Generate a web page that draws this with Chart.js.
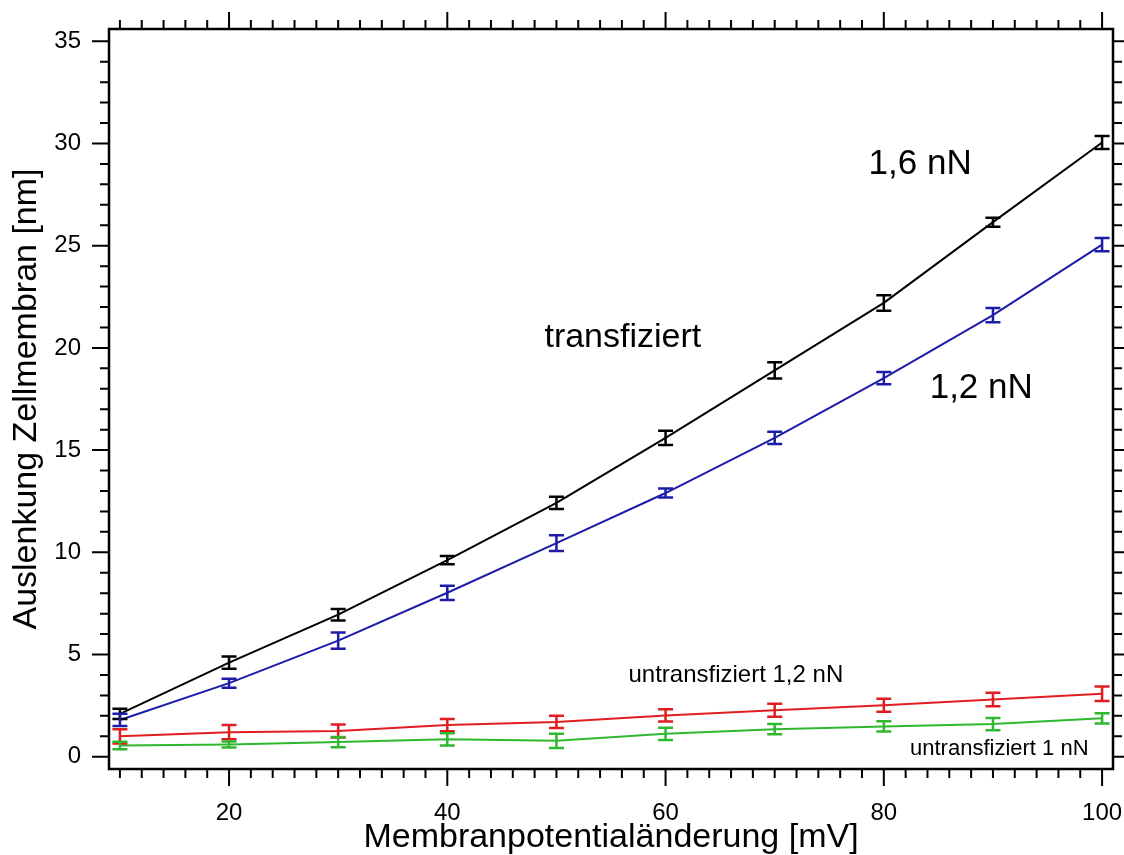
<!doctype html>
<html>
	<head>
		<meta charset="UTF-8" />
		<script src="https://cdn.jsdelivr.net/npm/chart.js"></script>
		<style type="text/css">
			body{margin:0;background:#fff;}
			#chartBox{width:1124px;height:855px;}
		</style>
	</head>
	<body>
		<div id="chartBox"><canvas id="membranChart" width="1124" height="855"></canvas></div>
		<script>
			// data block
			const mV = [10, 20, 30, 40, 50, 60, 70, 80, 90, 100];
			const trans16 = [2.1, 4.6, 6.95, 9.62, 12.42, 15.6, 18.9, 22.2, 26.15, 30.05];
			const trans16Err = [0.25, 0.3, 0.28, 0.2, 0.3, 0.35, 0.4, 0.38, 0.22, 0.32];
			const trans12 = [1.8, 3.6, 5.68, 8.02, 10.45, 12.9, 15.6, 18.52, 21.6, 25.05];
			const trans12Err = [0.3, 0.22, 0.4, 0.35, 0.38, 0.22, 0.3, 0.3, 0.35, 0.32];
			const untrans12 = [1.0, 1.2, 1.26, 1.55, 1.7, 2.02, 2.27, 2.52, 2.8, 3.08];
			const untrans12Err = [0.35, 0.35, 0.32, 0.3, 0.3, 0.3, 0.32, 0.32, 0.33, 0.35];
			const untrans10 = [0.55, 0.6, 0.72, 0.85, 0.78, 1.12, 1.35, 1.48, 1.6, 1.88];
			const untrans10Err = [0.18, 0.15, 0.25, 0.3, 0.35, 0.3, 0.25, 0.25, 0.3, 0.25];
			const xTickLabels = [20, 40, 60, 80, 100];
			const yTickLabels = [0, 5, 10, 15, 20, 25, 30, 35];
			const notes = [
				{text: '1,6 nN', x: 78.6, y: 28.5, size: 35},
				{text: 'transfiziert', x: 48.9, y: 20.05, size: 34},
				{text: '1,2 nN', x: 84.2, y: 17.55, size: 35},
				{text: 'untransfiziert 1,2 nN', x: 56.6, y: 3.65, size: 24},
				{text: 'untransfiziert 1 nN', x: 82.4, y: 0.08, size: 22}
			];

			const FONT = "'Liberation Sans', Arial, sans-serif";

			function pts(ys) { return mV.map((x, i) => ({x: x, y: ys[i]})); }

			const data = {
				datasets: [
					{label: 'transfiziert 1,6 nN', data: pts(trans16), err: trans16Err, borderColor: '#000000'},
					{label: 'transfiziert 1,2 nN', data: pts(trans12), err: trans12Err, borderColor: '#1c1ca8'},
					{label: 'untransfiziert 1,2 nN', data: pts(untrans12), err: untrans12Err, borderColor: '#e01e22'},
					{label: 'untransfiziert 1 nN', data: pts(untrans10), err: untrans10Err, borderColor: '#2fb82f'}
				].map(d => Object.assign(d, {borderWidth: 2, pointRadius: 0, tension: 0, fill: false}))
			};

			// error bars, frame, ticks and notes
			const extras = {
				id: 'extras',
				afterDatasetsDraw(chart) {
					const ctx = chart.ctx, ys = chart.scales.y;
					ctx.save();
					ctx.lineWidth = 2.5;
					chart.data.datasets.forEach((ds, di) => {
						const meta = chart.getDatasetMeta(di);
						ctx.strokeStyle = ds.borderColor;
						meta.data.forEach((p, i) => {
							const v = ds.data[i].y, e = ds.err[i];
							const y1 = ys.getPixelForValue(v - e), y2 = ys.getPixelForValue(v + e);
							ctx.beginPath();
							ctx.moveTo(p.x, y1); ctx.lineTo(p.x, y2);
							ctx.moveTo(p.x - 7.5, y1); ctx.lineTo(p.x + 7.5, y1);
							ctx.moveTo(p.x - 7.5, y2); ctx.lineTo(p.x + 7.5, y2);
							ctx.stroke();
						});
					});
					ctx.restore();
				},
				afterDraw(chart) {
					const ctx = chart.ctx, a = chart.chartArea;
					const xs = chart.scales.x, ys = chart.scales.y;
					ctx.save();
					ctx.strokeStyle = '#000';
					ctx.lineWidth = 2.5;
					ctx.strokeRect(a.left, a.top, a.right - a.left, a.bottom - a.top);
					ctx.lineWidth = 2;
					ctx.beginPath();
					for (let v = 10; v <= 100; v += 2) {
						const px = xs.getPixelForValue(v), len = v % 20 === 0 ? 17 : 9;
						ctx.moveTo(px, a.top); ctx.lineTo(px, a.top - len);
						ctx.moveTo(px, a.bottom); ctx.lineTo(px, a.bottom + len);
					}
					for (let v = 0; v <= 35; v++) {
						const py = ys.getPixelForValue(v), len = v % 5 === 0 ? 17 : 9;
						ctx.moveTo(a.left, py); ctx.lineTo(a.left - len, py);
						ctx.moveTo(a.right, py); ctx.lineTo(a.right + len, py);
					}
					ctx.stroke();
					ctx.fillStyle = '#000';
					ctx.textAlign = 'left';
					ctx.textBaseline = 'alphabetic';
					notes.forEach(n => {
						ctx.font = n.size + 'px ' + FONT;
						ctx.fillText(n.text, xs.getPixelForValue(n.x), ys.getPixelForValue(n.y));
					});
					ctx.restore();
				}
			};

			const config = {
				type: 'line',
				data,
				options: {
					responsive: false,
					animation: false,
					layout: {padding: {top: 29, right: 11, left: 0, bottom: 0}},
					plugins: {legend: {display: false}, tooltip: {enabled: false}},
					scales: {
						x: {
							type: 'linear',
							min: 9, max: 101,
							grid: {display: false},
							border: {display: false},
							afterBuildTicks: s => { s.ticks = xTickLabels.map(v => ({value: v})); },
							afterFit: s => { s.height = 86; s.paddingLeft = 0; s.paddingRight = 0; },
							ticks: {color: '#000', padding: 22, maxRotation: 0, font: {family: FONT, size: 24}},
							title: {display: true, text: 'Membranpotentialänderung [mV]', color: '#000',
								padding: {top: 0, bottom: 0}, font: {family: FONT, size: 34, lineHeight: 1}}
						},
						y: {
							type: 'linear',
							min: -0.6, max: 35.6,
							grid: {display: false},
							border: {display: false},
							afterBuildTicks: s => { s.ticks = yTickLabels.map(v => ({value: v})); },
							afterFit: s => { s.width = 109; s.paddingTop = 0; s.paddingBottom = 0; },
							ticks: {color: '#000', padding: 20, font: {family: FONT, size: 24}},
							title: {display: true, text: 'Auslenkung Zellmembran [nm]', color: '#000',
								padding: {top: 10, bottom: 0}, font: {family: FONT, size: 34, lineHeight: 1}}
						}
					}
				},
				plugins: [extras]
			};

			const membranChart = new Chart(document.getElementById('membranChart'), config);
		</script>
	</body>
</html>
